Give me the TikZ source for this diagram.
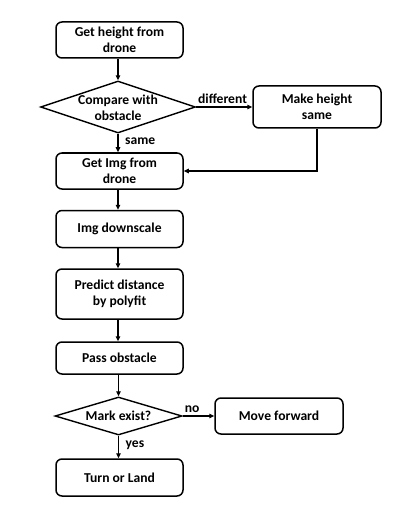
\documentclass[tikz,border=0pt]{standalone}
\usepackage{fontspec}
\setmainfont{Carlito}
\usetikzlibrary{shapes.geometric,arrows.meta}
\begin{document}
\begin{tikzpicture}[x=1pt,y=-1pt,
  every node/.style={font=\fontsize{13.6}{16}\selectfont\bfseries},
  proc/.style={draw,line width=1.5pt,rounded corners=6pt,minimum width=127pt,minimum height=36pt,inner sep=0pt,align=center},
  dec/.style={draw,line width=1.4pt,diamond,inner sep=0pt},
  lbl/.style={font=\fontsize{13.6}{16}\selectfont\bfseries,inner sep=2.5pt},
  arr/.style={draw,line width=1.4pt,-{Triangle[length=5pt,width=4.5pt]}}]
\useasboundingbox[fill=white] (0,0) rectangle (407,513);
\node[proc] (b1) at (119.5,40) {Get height from\\drone};
\node[dec,minimum width=155pt,minimum height=52pt] (d1) at (118,107) {};
\node[align=center] (t1) at (118,108) {Compare with\\obstacle};
\node[proc,minimum width=128pt,minimum height=42pt] (mh) at (317,107) {Make height\\same};
\node[proc] (b2) at (119.5,171) {Get Img from\\drone};
\node[proc,minimum height=37pt] (b3) at (119.5,229) {Img downscale};
\node[proc,minimum height=50pt] (b4) at (119.5,294) {Predict distance\\by polyfit};
\node[proc,minimum height=32pt] (b5) at (119.5,358) {Pass obstacle};
\node[dec,minimum width=127pt,minimum height=38pt] (d2) at (118.5,416) {};
\node (t2) at (118.5,416) {Mark exist?};
\node[proc,minimum width=128pt] (mf) at (279,416) {Move forward};
\node[proc,minimum height=37pt] (b6) at (119.5,477.5) {Turn or Land};
\draw[arr] (b1.south -| d1.north) -- (d1.north);
\draw[arr] (d1.east) -- node[lbl,above,pos=0.47] {different} (mh.west);
\draw[arr] (d1.south) -- node[lbl,right,pos=0.4,xshift=4pt] {same} (d1.south |- b2.north);
\draw[arr] (mh.south) |- (b2.east);
\draw[arr] (b2.south -| d1.south) -- (b3.north -| d1.south);
\draw[arr] (b3.south -| d1.south) -- (b4.north -| d1.south);
\draw[arr] (b4.south -| d1.south) -- (b5.north -| d1.south);
\draw[arr] (b5.south -| d2.north) -- (d2.north);
\draw[arr] (d2.east) -- node[lbl,above,pos=0.3] {no} (mf.west);
\draw[arr] (d2.south) -- node[lbl,right,pos=0.4,xshift=4pt] {yes} (d2.south |- b6.north);
\end{tikzpicture}
\end{document}
